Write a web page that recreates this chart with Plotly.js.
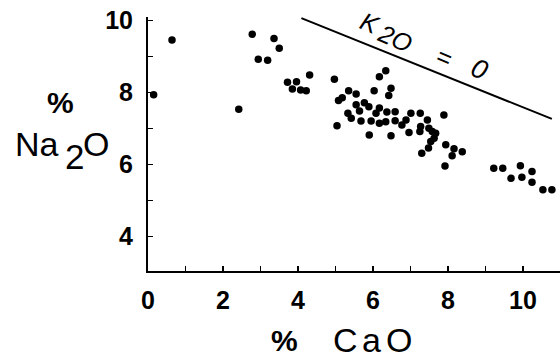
<!DOCTYPE html>
<html>
<head>
<meta charset="utf-8">
<script src="https://cdn.plot.ly/plotly-3.0.1.min.js"></script>
<style>html,body{margin:0;padding:0;background:#fff;}#chart{width:560px;height:361px;}</style>
</head>
<body>
<div id="chart"></div>
<script>
// Sample data: % CaO (x) vs % Na2O (y)
const cao = [0.64, 0.15, 2.42, 2.78, 2.94, 3.19, 3.36, 3.50, 3.72, 3.96, 3.85, 4.07, 4.22, 4.31,
  4.97, 5.08, 5.04, 6.34, 6.17, 6.48, 6.03, 6.42, 5.35, 5.55, 5.18, 5.55, 5.77, 5.89, 5.64,
  6.17, 6.08, 6.37, 6.59, 7.01, 5.33, 5.42, 5.68, 5.95, 6.17, 6.34, 6.59, 6.88, 6.77, 5.90,
  6.48, 6.96, 7.26, 7.45, 7.89, 7.27, 7.25, 7.49, 7.58, 7.67, 7.63, 7.54, 7.48, 7.30, 7.94,
  8.16, 8.38, 8.11, 7.92, 9.22, 9.46, 9.93, 10.24, 9.68, 9.97, 10.24, 10.53, 10.77];
const na2o = [9.46, 7.94, 7.54, 9.62, 8.93, 8.90, 9.50, 9.23, 8.29, 8.30, 8.10, 8.07, 8.05, 8.49,
  8.37, 7.78, 7.08, 8.61, 8.44, 8.12, 8.05, 7.92, 8.05, 7.96, 7.86, 7.66, 7.72, 7.61, 7.49,
  7.57, 7.43, 7.46, 7.47, 7.43, 7.43, 7.29, 7.21, 7.21, 7.15, 7.19, 7.22, 7.24, 7.10, 6.82,
  6.80, 6.89, 7.43, 7.24, 7.38, 7.06, 6.92, 7.01, 6.92, 6.87, 6.73, 6.64, 6.46, 6.32, 6.55,
  6.44, 6.36, 6.25, 5.96, 5.90, 5.90, 5.97, 5.81, 5.62, 5.65, 5.51, 5.30, 5.30];
// K2O = 0 reference line
const k2oZeroCaO = [4.09, 10.77];
const k2oZeroNa2O = [10.07, 7.27];
// Ticks
const xTickVals = [0, 1, 2, 3, 4, 5, 6, 7, 8, 9, 10];
const xTickText = ['0', '', '2', '', '4', '', '6', '', '8', '', '10'];
const yTickVals = [4, 5, 6, 7, 8, 9, 10];
const yTickText = ['4', '', '6', '', '8', '', '10'];

const W = 560, H = 361, L = 148, R = 0, T = 17, B = 90;
const pw = W - L - R, ph = H - T - B;
const px = x => (x - L) / pw;
const py = y => (H - B - y) / ph;

const sans = 'Liberation Sans, Arial, Helvetica, sans-serif';
function txt(text, x, y, size, opts) {
  return Object.assign({
    text: text, xref: 'paper', yref: 'paper', x: px(x), y: py(y),
    xanchor: 'center', yanchor: 'middle', showarrow: false,
    font: {family: sans, size: size, color: '#000'}
  }, opts || {});
}

const traces = [
  {x: cao, y: na2o, type: 'scatter', mode: 'markers',
   marker: {color: '#000', size: 7.5}, hoverinfo: 'skip'},
  {x: k2oZeroCaO, y: k2oZeroNa2O, type: 'scatter', mode: 'lines',
   line: {color: '#000', width: 2}, hoverinfo: 'skip'}
];

const axisCommon = {
  showline: true, linecolor: '#000', linewidth: 2, showgrid: false, zeroline: false,
  ticks: 'inside', ticklen: 5, tickwidth: 1.5, tickcolor: '#000', tickmode: 'array',
  tickfont: {family: sans, size: 25, color: '#000', weight: 'bold'}
};

const layout = {
  width: W, height: H, margin: {l: L, r: R, t: T, b: B, pad: 0},
  paper_bgcolor: '#fff', plot_bgcolor: '#fff', showlegend: false,
  xaxis: Object.assign({}, axisCommon, {range: [0, pw / 37.5], tickvals: xTickVals, ticktext: xTickText, ticklabelstandoff: 6}),
  yaxis: Object.assign({}, axisCommon, {range: [3.047, 10.10], tickvals: yTickVals, ticktext: yTickText, ticklabelstandoff: 8}),
  annotations: [
    txt('%', 284, 340, 30, {font: {family: sans, size: 30, color: '#000', weight: 'bold'}}),
    txt('C', 345, 340, 34),
    txt('a', 371.5, 340, 34),
    txt('O', 398.5, 340, 34),
    txt('%', 60, 103, 30, {font: {family: sans, size: 30, color: '#000', weight: 'bold'}}),
    txt('Na', 36.5, 144, 34),
    txt('2', 74, 156, 35),
    txt('O', 96, 143.5, 34),
    txt('<i>K</i>', 370, 23, 25, {textangle: 23}),
    txt('<i>2O</i>', 395, 38, 25, {textangle: 23}),
    txt('<i>=</i>', 444, 57, 25, {textangle: 23}),
    txt('<i>0</i>', 479, 69, 27, {textangle: 23})
  ]
};

Plotly.newPlot('chart', traces, layout, {staticPlot: true, displayModeBar: false});
</script>
</body>
</html>
